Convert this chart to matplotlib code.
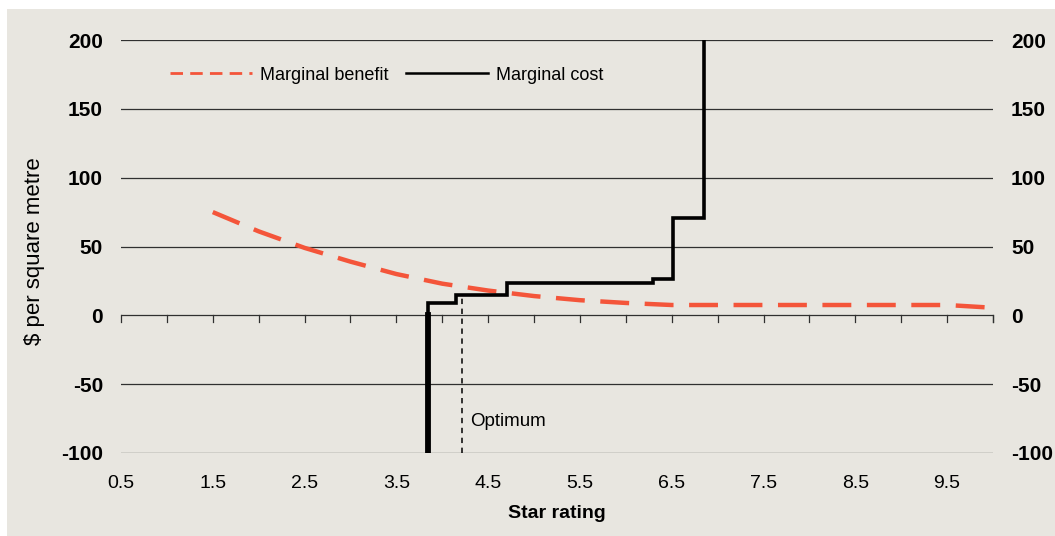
import matplotlib
matplotlib.use("Agg")
import matplotlib.pyplot as plt
from matplotlib.patches import Rectangle
from matplotlib.lines import Line2D

plt.rcParams['font.family'] = ['Liberation Sans', 'DejaVu Sans']

# -------------------------
# Data
# -------------------------
benefit_star = [1.5, 2.0, 2.5, 3.0, 3.5, 4.0, 4.5, 5.0, 5.5, 6.0, 6.5, 7.0, 7.5, 8.0, 8.5, 9.0, 9.5, 10.0]
benefit_value = [75, 61, 49, 39, 30, 23, 18, 14, 11, 9, 7.5, 7.5, 7.5, 7.5, 7.5, 7.5, 7.5, 5.5]

# marginal cost steps: star rating where each step starts, and its level
cost_star = [3.85, 4.15, 4.71, 6.30, 6.51, 6.85]
cost_level = [9, 15, 23.5, 26.5, 71, 200]
cost_floor = -100

optimum_star = 4.22
optimum_top = 15

x_labels = [0.5, 1.5, 2.5, 3.5, 4.5, 5.5, 6.5, 7.5, 8.5, 9.5]
x_minor = [0.5 + 0.5 * i for i in range(20)]
y_ticks = [-100, -50, 0, 50, 100, 150, 200]

bg = '#e8e6e0'
red = '#f4553a'

# -------------------------
# Plot
# -------------------------
fig = plt.figure(figsize=(10.55, 5.36), dpi=100, facecolor='white')
fig.patches.append(Rectangle((7 / 1055, 0), 1, 1 - 9 / 536, transform=fig.transFigure,
                             facecolor=bg, edgecolor='none', zorder=-10))
ax = fig.add_axes([121 / 1055, 1 - 453 / 536, (993 - 121) / 1055, (453 - 40) / 536])
ax.set_facecolor(bg)

ax.set_xlim(0.5, 10.0)
ax.set_ylim(-100, 200)

for s in ax.spines.values():
    s.set_visible(False)

# gridlines
for yv in y_ticks:
    ax.axhline(yv, color='#303030', lw=0.9, zorder=1)

# tick marks on zero line
for xv in x_minor + [10.0]:
    ax.plot([xv, xv], [0, -5], color='#303030', lw=0.9, zorder=1, clip_on=False)

ax.set_xticks(x_labels)
ax.set_xticklabels([f"{v:.1f}" for v in x_labels], fontsize=14)
ax.tick_params(axis='x', length=0, pad=16)
ax.set_yticks(y_ticks)
ax.set_yticklabels([str(v) for v in y_ticks], fontsize=15, fontweight='bold')
ax.tick_params(axis='y', length=0, pad=13, labelright=True)
for lab in ax.yaxis.get_ticklabels(which='both'):
    lab.set_fontweight('bold')

# marginal benefit
ax.plot(benefit_star, benefit_value, color=red, lw=3.2, dashes=(6.5, 3.5), zorder=3)

# marginal cost as a step path
path_x = [cost_star[0]]
path_y = [cost_floor]
for i, (xs, lv) in enumerate(zip(cost_star, cost_level)):
    path_x.append(xs)
    path_y.append(lv)
    if i + 1 < len(cost_star):
        path_x.append(cost_star[i + 1])
        path_y.append(lv)
ax.plot(path_x, path_y, color='black', lw=2.6, zorder=4, solid_joinstyle='miter')
ax.plot([cost_star[0], cost_star[0]], [cost_floor, 0], color='black', lw=4.2, zorder=4)

# optimum
ax.plot([optimum_star, optimum_star], [cost_floor, optimum_top], color='black',
        lw=1.1, dashes=(3.5, 3), zorder=2)
ax.text(optimum_star + 0.08, -77, 'Optimum', fontsize=13.5, va='center', ha='left')

ax.set_xlabel('Star rating', fontsize=14, fontweight='bold', labelpad=9)
ax.set_ylabel('$ per square metre', fontsize=16)
ax.yaxis.set_label_coords(-0.087, 0.49)

handles = [Line2D([], [], color=red, lw=2.0, dashes=(4.5, 2.6)),
           Line2D([], [], color='black', lw=1.8)]
ax.legend(handles, ['Marginal benefit', 'Marginal cost'], loc='upper left',
          bbox_to_anchor=(0.038, 0.975), ncol=2, frameon=False,
          fontsize=13, handlelength=4.5, handletextpad=0.45, columnspacing=1.0)

fig.savefig('out.png', dpi=100, facecolor=fig.get_facecolor())
